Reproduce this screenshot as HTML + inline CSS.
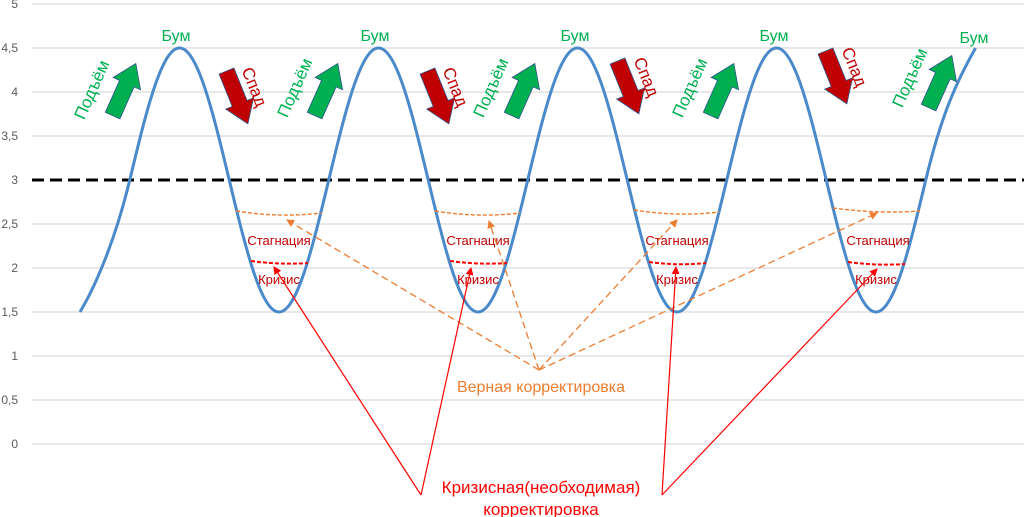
<!DOCTYPE html>
<html><head><meta charset="utf-8"><style>
html,body{margin:0;padding:0;background:#fff;}
svg{display:block;font-family:"Liberation Sans","DejaVu Sans",sans-serif;}
</style></head><body>
<svg width="1024" height="517" viewBox="0 0 1024 517" xmlns="http://www.w3.org/2000/svg">
<defs>
<marker id="ao" markerWidth="8" markerHeight="8" refX="7" refY="4" orient="auto" markerUnits="userSpaceOnUse"><path d="M0,0 L8,4 L0,8 z" fill="#ED7D31"/></marker>
<marker id="ar" markerWidth="8" markerHeight="8" refX="7" refY="4" orient="auto" markerUnits="userSpaceOnUse"><path d="M0,0 L8,4 L0,8 z" fill="#FF0000"/></marker>
<g id="ga"><path d="M-28,-8 L7,-8 L7,-15 L29,0 L7,15 L7,8 L-28,8 z" fill="#00B050" stroke="#2F528F" stroke-width="0.8"/></g>
<g id="ra"><path d="M-28,-8 L7,-8 L7,-15 L29,0 L7,15 L7,8 L-28,8 z" fill="#C00000" stroke="#2F528F" stroke-width="0.8"/></g>
</defs>
<g stroke="#D9D9D9" stroke-width="1.2">
<line x1="32" y1="4" x2="1024" y2="4"/><line x1="32" y1="48" x2="1024" y2="48"/>
<line x1="32" y1="92" x2="1024" y2="92"/><line x1="32" y1="136" x2="1024" y2="136"/>
<line x1="32" y1="224" x2="1024" y2="224"/><line x1="32" y1="268" x2="1024" y2="268"/>
<line x1="32" y1="312" x2="1024" y2="312"/><line x1="32" y1="356" x2="1024" y2="356"/>
<line x1="32" y1="400" x2="1024" y2="400"/><line x1="32" y1="444" x2="1024" y2="444"/>
</g>
<g fill="#595959" font-size="12" text-anchor="end">
<text x="18" y="8">5</text><text x="18" y="52">4,5</text><text x="18" y="96">4</text>
<text x="18" y="140">3,5</text><text x="18" y="184">3</text><text x="18" y="228">2,5</text>
<text x="18" y="272">2</text><text x="18" y="316">1,5</text><text x="18" y="360">1</text>
<text x="18" y="404">0,5</text><text x="18" y="448">0</text>
</g>
<line x1="32" y1="180" x2="1024" y2="180" stroke="#000" stroke-width="3" stroke-dasharray="12,6"/>
<path fill="none" stroke="#4A8ACB" stroke-width="3" d="M80,312
c12,-20 33.53,-64.4 49.75,-132 c16.22,-67.6 31.74,-132 49.75,-132 c18.01,0 33.53,64.4 49.75,132 c16.22,67.6 31.74,132 49.75,132
c18.01,0 33.53,-64.4 49.75,-132 c16.22,-67.6 31.74,-132 49.75,-132 c18.01,0 33.53,64.4 49.75,132 c16.22,67.6 31.74,132 49.75,132
c18.01,0 33.53,-64.4 49.75,-132 c16.22,-67.6 31.74,-132 49.75,-132 c18.01,0 33.53,64.4 49.75,132 c16.22,67.6 31.74,132 49.75,132
c18.01,0 33.53,-64.4 49.75,-132 c16.22,-67.6 31.74,-132 49.75,-132 c18.01,0 33.53,64.4 49.75,132 c16.22,67.6 31.74,132 49.75,132
c18.01,0 33.53,-64.4 49.75,-132 c16.22,-67.6 31.74,-100 49.75,-132"/>
<g fill="#00B050" font-size="16" text-anchor="middle">
<text x="176" y="41">Бум</text><text x="375" y="41">Бум</text><text x="575" y="41">Бум</text><text x="774" y="41">Бум</text><text x="974" y="43">Бум</text>
</g>
<use href="#ga" transform="translate(124,90) rotate(-66)"/>
<use href="#ga" transform="translate(326,90) rotate(-66)"/>
<use href="#ga" transform="translate(523,90) rotate(-66)"/>
<use href="#ga" transform="translate(722,90) rotate(-66)"/>
<use href="#ga" transform="translate(940,82) rotate(-66)"/>
<g fill="#00B050" font-size="17" text-anchor="middle">
<text transform="translate(97,92) rotate(-66)">Подъём</text>
<text transform="translate(300,90) rotate(-66)">Подъём</text>
<text transform="translate(496,90) rotate(-66)">Подъём</text>
<text transform="translate(695,90) rotate(-66)">Подъём</text>
<text transform="translate(915,80) rotate(-66)">Подъём</text>
</g>
<use href="#ra" transform="translate(237,97) rotate(68)"/>
<use href="#ra" transform="translate(438,97) rotate(68)"/>
<use href="#ra" transform="translate(628,87) rotate(68)"/>
<use href="#ra" transform="translate(836,77) rotate(68)"/>
<g fill="#C00000" font-size="17" text-anchor="middle">
<text transform="translate(249,89) rotate(68)">Спад</text>
<text transform="translate(450,89) rotate(68)">Спад</text>
<text transform="translate(641,79) rotate(68)">Спад</text>
<text transform="translate(849,69) rotate(68)">Спад</text>
</g>
<g fill="none" stroke-width="1.4">
<path d="M236,211 Q280,218 321,213" stroke="#ED7D31" stroke-dasharray="4,2"/>
<path d="M435,211 Q479,218 520,213" stroke="#ED7D31" stroke-dasharray="4,2"/>
<path d="M634,210 Q678,217 719,212" stroke="#ED7D31" stroke-dasharray="4,2"/>
<path d="M833,208 Q877,214 920,211" stroke="#ED7D31" stroke-dasharray="4,2"/>
<path d="M251,261 Q280,265 308,263" stroke="#FF0000" stroke-width="2" stroke-dasharray="4,2"/>
<path d="M450,261 Q479,265 507,263" stroke="#FF0000" stroke-width="2" stroke-dasharray="4,2"/>
<path d="M649,262 Q678,266 706,263" stroke="#FF0000" stroke-width="2" stroke-dasharray="4,2"/>
<path d="M848,262 Q877,266 905,264" stroke="#FF0000" stroke-width="2" stroke-dasharray="4,2"/>
</g>
<g fill="#C00000" font-size="13" text-anchor="middle">
<text x="279" y="245">Стагнация</text><text x="478" y="245">Стагнация</text><text x="677" y="245">Стагнация</text><text x="878" y="245">Стагнация</text>
<text x="279" y="284">Кризис</text><text x="478" y="284">Кризис</text><text x="677" y="284">Кризис</text><text x="876" y="284">Кризис</text>
</g>
<g stroke="#ED7D31" stroke-width="1.3" stroke-dasharray="7,4" fill="none">
<line x1="539" y1="370" x2="287" y2="220" marker-end="url(#ao)"/>
<line x1="539" y1="370" x2="489" y2="221" marker-end="url(#ao)"/>
<line x1="539" y1="370" x2="677" y2="220" marker-end="url(#ao)"/>
<line x1="539" y1="370" x2="877" y2="213" marker-end="url(#ao)"/>
</g>
<text x="541" y="392" fill="#ED7D31" font-size="16" text-anchor="middle">Верная корректировка</text>
<g stroke="#FF0000" stroke-width="1.2" fill="none">
<line x1="421" y1="495" x2="274" y2="267" marker-end="url(#ar)"/>
<line x1="421" y1="495" x2="471" y2="268" marker-end="url(#ar)"/>
<line x1="662" y1="495" x2="676" y2="267" marker-end="url(#ar)"/>
<line x1="662" y1="495" x2="877" y2="269" marker-end="url(#ar)"/>
</g>
<g fill="#FF0000" font-size="17" text-anchor="middle">
<text x="541" y="493">Кризисная(необходимая)</text>
<text x="541" y="515">корректировка</text>
</g>
</svg>
</body></html>
